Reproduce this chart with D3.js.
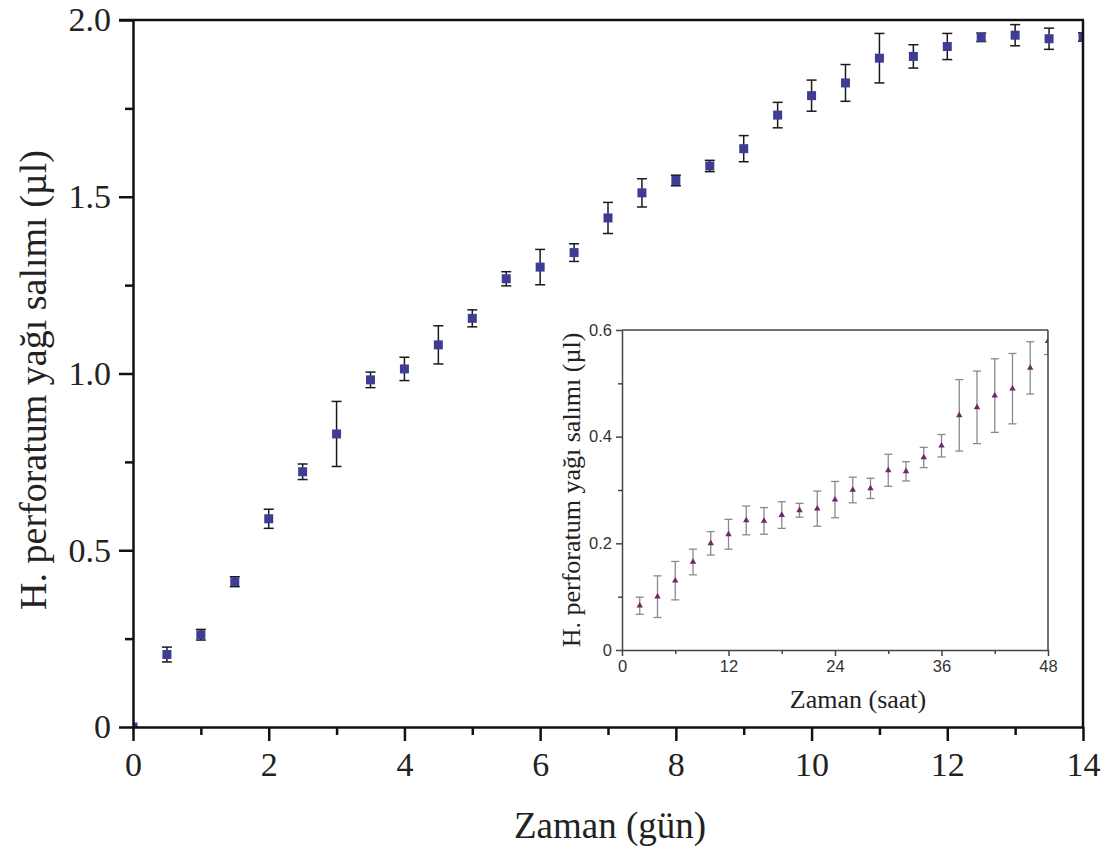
<!DOCTYPE html>
<html>
<head>
<meta charset="utf-8">
<script src="https://cdn.jsdelivr.net/npm/d3@7"></script>
<style>
  body { margin: 0; background: #fff; }
  svg { display: block; }
  .main-ax text { font-family: "Liberation Serif", "Times New Roman", serif; font-size: 34px; fill: #222; }
  .inset-ax text { font-family: "Liberation Sans", Arial, sans-serif; font-size: 16.5px; fill: #333; }
</style>
</head>
<body>
<script>
// main chart: release over days
var days = [0, 0.5, 1, 1.5, 2, 2.5, 3, 3.5, 4, 4.5, 5, 5.5, 6, 6.5, 7, 7.5, 8, 8.5, 9, 9.5, 10, 10.5, 11, 11.5, 12, 12.5, 13, 13.5, 14];
var dayRelease = [0, 0.205, 0.261, 0.411, 0.589, 0.722, 0.829, 0.982, 1.013, 1.081, 1.156, 1.268, 1.301, 1.342, 1.440, 1.511, 1.546, 1.587, 1.636, 1.731, 1.786, 1.822, 1.892, 1.897, 1.925, 1.951, 1.957, 1.947, 1.952];
var dayErr = [0, 0.021, 0.015, 0.014, 0.027, 0.022, 0.092, 0.022, 0.033, 0.054, 0.024, 0.02, 0.05, 0.025, 0.044, 0.04, 0.015, 0.016, 0.037, 0.036, 0.044, 0.052, 0.07, 0.033, 0.037, 0.012, 0.03, 0.03, 0.012];
var dayTicks = [0, 2, 4, 6, 8, 10, 12, 14];
var dayMinor = [1, 3, 5, 7, 9, 11, 13];
var releaseTicks = [0, 0.5, 1.0, 1.5, 2.0];
var releaseTickLabels = ["0", "0.5", "1.0", "1.5", "2.0"];
var releaseMinor = [0.25, 0.75, 1.25, 1.75];

// inset: first 48 hours
var hours = [2, 4, 6, 8, 10, 12, 14, 16, 18, 20, 22, 24, 26, 28, 30, 32, 34, 36, 38, 40, 42, 44, 46, 48];
var hourRelease = [0.083, 0.1, 0.13, 0.165, 0.2, 0.217, 0.243, 0.242, 0.253, 0.262, 0.265, 0.282, 0.3, 0.303, 0.337, 0.335, 0.361, 0.383, 0.44, 0.455, 0.477, 0.49, 0.529, 0.579];
var hourErr = [0.016, 0.039, 0.036, 0.024, 0.022, 0.028, 0.027, 0.025, 0.025, 0.013, 0.033, 0.034, 0.024, 0.019, 0.03, 0.018, 0.019, 0.021, 0.067, 0.068, 0.069, 0.066, 0.049, 0.025];
var hourTicks = [0, 12, 24, 36, 48];
var hourMinor = [6, 18, 30, 42];
var insetYTicks = [0, 0.2, 0.4, 0.6];
var insetYTickLabels = ["0", "0.2", "0.4", "0.6"];
var insetYMinor = [0.1, 0.3, 0.5];

var width = 1110, height = 850;
var svg = d3.select("body").append("svg")
  .attr("width", width)
  .attr("height", height);

var serif = "'Liberation Serif', 'Times New Roman', serif";

// ---------- main plot ----------
var x = d3.scaleLinear().domain([0, 14]).range([133, 1083]);
var y = d3.scaleLinear().domain([0, 2]).range([727, 20]);

svg.append("clipPath").attr("id", "mainClip")
  .append("rect").attr("x", 133).attr("y", 20).attr("width", 950).attr("height", 707);

var plot = svg.append("g").attr("clip-path", "url(#mainClip)");

var bars = plot.selectAll(".ebar").data(days).enter().append("g").attr("class", "ebar")
  .attr("stroke", "#1a1a1a").attr("stroke-width", 1.5);
bars.append("line")
  .attr("x1", d => x(d)).attr("x2", d => x(d))
  .attr("y1", (d, i) => y(dayRelease[i] - dayErr[i]))
  .attr("y2", (d, i) => y(dayRelease[i] + dayErr[i]));
bars.append("line")
  .attr("x1", d => x(d) - 5).attr("x2", d => x(d) + 5)
  .attr("y1", (d, i) => y(dayRelease[i] + dayErr[i]))
  .attr("y2", (d, i) => y(dayRelease[i] + dayErr[i]));
bars.append("line")
  .attr("x1", d => x(d) - 5).attr("x2", d => x(d) + 5)
  .attr("y1", (d, i) => y(dayRelease[i] - dayErr[i]))
  .attr("y2", (d, i) => y(dayRelease[i] - dayErr[i]));

plot.selectAll(".sq").data(days).enter().append("rect").attr("class", "sq")
  .attr("x", d => x(d) - 4.5).attr("y", (d, i) => y(dayRelease[i]) - 4.5)
  .attr("width", 9).attr("height", 9)
  .attr("fill", "#3f3c96");

// frame: top and right lines
svg.append("line").attr("x1", 119).attr("x2", 1084).attr("y1", 20).attr("y2", 20)
  .attr("stroke", "#111").attr("stroke-width", 2.5);
svg.append("line").attr("x1", 1083).attr("x2", 1083).attr("y1", 20).attr("y2", 727)
  .attr("stroke", "#111").attr("stroke-width", 2.5);

// x axis
svg.append("g").attr("class", "main-ax").attr("transform", "translate(0,727)")
  .call(d3.axisBottom(x).tickValues(dayTicks).tickFormat(d3.format("d")).tickSize(14).tickSizeOuter(0).tickPadding(11));
svg.append("g").attr("class", "main-minor").attr("transform", "translate(0,727)")
  .call(d3.axisBottom(x).tickValues(dayMinor).tickFormat("").tickSize(8).tickSizeOuter(0))
  .select(".domain").remove();

// y axis
svg.append("g").attr("class", "main-ax").attr("transform", "translate(133,0)")
  .call(d3.axisLeft(y).tickValues(releaseTicks).tickFormat((d, i) => releaseTickLabels[i]).tickSize(14).tickSizeOuter(0).tickPadding(8));
svg.append("g").attr("class", "main-minor").attr("transform", "translate(133,0)")
  .call(d3.axisLeft(y).tickValues(releaseMinor).tickFormat("").tickSize(8).tickSizeOuter(0))
  .select(".domain").remove();

svg.selectAll(".main-ax .domain, .main-ax line, .main-minor line").attr("stroke", "#111").attr("stroke-width", 2.5);

svg.append("text")
  .attr("x", 610).attr("y", 838)
  .attr("text-anchor", "middle")
  .style("font-family", serif)
  .style("font-size", "37px").style("fill", "#222")
  .text("Zaman (gün)");

svg.append("text")
  .attr("transform", "translate(46,380) rotate(-90)")
  .attr("text-anchor", "middle")
  .style("font-family", serif)
  .style("font-size", "38px").style("fill", "#222")
  .text("H. perforatum yağı salımı (µl)");

// ---------- inset ----------
var ix = d3.scaleLinear().domain([0, 48]).range([622, 1048]);
var iy = d3.scaleLinear().domain([0, 0.6]).range([650, 330]);

svg.append("clipPath").attr("id", "insetClip")
  .append("rect").attr("x", 622).attr("y", 330).attr("width", 426).attr("height", 320);

var inset = svg.append("g").attr("clip-path", "url(#insetClip)");

var ibars = inset.selectAll(".ibar").data(hours).enter().append("g").attr("class", "ibar")
  .attr("stroke", "#8a8a8a").attr("stroke-width", 1.3);
ibars.append("line")
  .attr("x1", d => ix(d)).attr("x2", d => ix(d))
  .attr("y1", (d, i) => iy(hourRelease[i] - hourErr[i]))
  .attr("y2", (d, i) => iy(hourRelease[i] + hourErr[i]));
ibars.append("line")
  .attr("x1", d => ix(d) - 4).attr("x2", d => ix(d) + 4)
  .attr("y1", (d, i) => iy(hourRelease[i] + hourErr[i]))
  .attr("y2", (d, i) => iy(hourRelease[i] + hourErr[i]));
ibars.append("line")
  .attr("x1", d => ix(d) - 4).attr("x2", d => ix(d) + 4)
  .attr("y1", (d, i) => iy(hourRelease[i] - hourErr[i]))
  .attr("y2", (d, i) => iy(hourRelease[i] - hourErr[i]));

var tri = d3.symbol().type(d3.symbolTriangle).size(18);
inset.selectAll(".tri").data(hours).enter().append("path").attr("class", "tri")
  .attr("d", tri)
  .attr("transform", (d, i) => "translate(" + ix(d) + "," + iy(hourRelease[i]) + ")")
  .attr("fill", "#6e2a68");

// inset frame
svg.append("line").attr("x1", 622).attr("x2", 1048).attr("y1", 330).attr("y2", 330)
  .attr("stroke", "#444").attr("stroke-width", 1.5);
svg.append("line").attr("x1", 1048).attr("x2", 1048).attr("y1", 330).attr("y2", 650)
  .attr("stroke", "#444").attr("stroke-width", 1.5);

svg.append("g").attr("class", "inset-ax").attr("transform", "translate(0,650)")
  .call(d3.axisBottom(ix).tickValues(hourTicks).tickFormat(d3.format("d")).tickSize(6).tickSizeOuter(0).tickPadding(4));
svg.append("g").attr("class", "inset-minor").attr("transform", "translate(0,650)")
  .call(d3.axisBottom(ix).tickValues(hourMinor).tickFormat("").tickSize(4).tickSizeOuter(0))
  .select(".domain").remove();

svg.append("g").attr("class", "inset-ax").attr("transform", "translate(622,0)")
  .call(d3.axisLeft(iy).tickValues(insetYTicks).tickFormat((d, i) => insetYTickLabels[i]).tickSize(6).tickSizeOuter(0).tickPadding(4));
svg.append("g").attr("class", "inset-minor").attr("transform", "translate(622,0)")
  .call(d3.axisLeft(iy).tickValues(insetYMinor).tickFormat("").tickSize(4).tickSizeOuter(0))
  .select(".domain").remove();

svg.selectAll(".inset-ax .domain, .inset-ax line, .inset-minor line").attr("stroke", "#444").attr("stroke-width", 1.5);

svg.append("text")
  .attr("x", 858).attr("y", 708)
  .attr("text-anchor", "middle")
  .style("font-family", serif)
  .style("font-size", "26px").style("fill", "#222")
  .text("Zaman (saat)");

svg.append("text")
  .attr("transform", "translate(580,490) rotate(-90)")
  .attr("text-anchor", "middle")
  .style("font-family", serif)
  .style("font-size", "26px").style("fill", "#222")
  .text("H. perforatum yağı salımı (µl)");
</script>
</body>
</html>
